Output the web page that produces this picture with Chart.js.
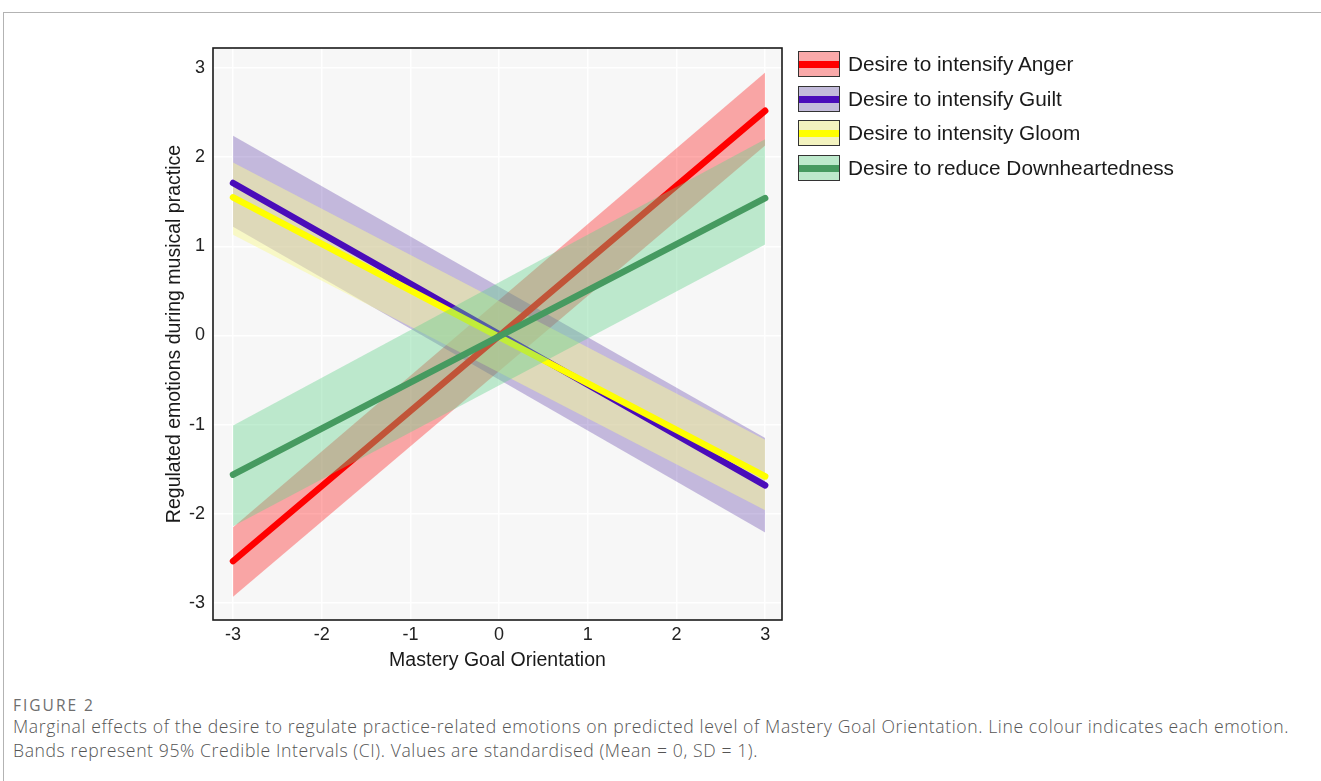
<!DOCTYPE html>
<html>
<head>
<meta charset="utf-8">
<script src="https://cdn.jsdelivr.net/npm/chart.js@4.4.0/dist/chart.umd.min.js"></script>
<style>
  body { margin: 0; background: #fff; width: 1321px; height: 781px; overflow: hidden; position: relative; font-family: "Liberation Sans", Arial, sans-serif; }
  #frame { position: absolute; left: 3px; top: 12px; right: 0; bottom: 0; border-top: 1px solid #b3b3b3; border-left: 1px solid #b3b3b3; }
  #chart { position: absolute; left: 0; top: 0; }
  .leg { position: absolute; left: 798px; height: 27px; display: flex; align-items: center; }
  .key { width: 40px; height: 24px; border: 1.5px solid #333; position: relative; margin-right: 8px; box-sizing: content-box; }
  .key i { position: absolute; left: 0; right: 0; top: 9px; height: 7px; }
  .leg span { font-size: 20.8px; color: #1a1a1a; }
  #fig { position: absolute; left: 13px; top: 694px; font-family: "Open Sans", sans-serif; font-size: 15.5px; font-weight: 500; color: #6e6e6e; letter-spacing: 2px; }
  #cap { position: absolute; left: 13px; top: 714px; width: 1300px; font-family: "Open Sans", sans-serif; font-size: 17.6px; line-height: 24px; color: #555; font-weight: 300; letter-spacing: 0.6px; }
</style>
</head>
<body>
<div id="frame"></div>
<canvas id="chart" width="800" height="690"></canvas>
<div id="legend"></div>
<div id="fig">FIGURE 2</div>
<div id="cap">Marginal effects of the desire to regulate practice-related emotions on predicted level of Mastery Goal Orientation. Line colour indicates each emotion. Bands represent 95% Credible Intervals (CI). Values are standardised (Mean = 0, SD = 1).</div>
<script>
// x positions of the fitted lines (Mastery Goal Orientation)
const xVals = [-3, 3];
const xTicks = [-3, -2, -1, 0, 1, 2, 3];
const yTicks = [-3, -2, -1, 0, 1, 2, 3];

const seriesNames = ['Desire to intensify Anger', 'Desire to intensify Guilt', 'Desire to intensity Gloom', 'Desire to reduce Downheartedness'];

const angerFit  = [-2.53, 2.52];
const angerLow  = [-2.93, 2.13];
const angerHigh = [-2.15, 2.95];

const guiltFit  = [1.71, -1.68];
const guiltLow  = [1.22, -2.21];
const guiltHigh = [2.24, -1.15];

const gloomFit  = [1.55, -1.58];
const gloomLow  = [1.13, -1.96];
const gloomHigh = [1.94, -1.17];

const downFit  = [-1.56, 1.54];
const downLow  = [-2.14, 1.02];
const downHigh = [-1.01, 2.20];

const lineColors = ['#ff0000', '#4a0cba', '#ffff00', '#469a60'];
const bandColors = ['rgba(255,0,0,0.33)', 'rgba(75,40,160,0.30)', 'rgba(250,250,150,0.5)', 'rgba(100,210,140,0.40)'];
const legendFill = ['#f9a9a9', '#c3bbdb', '#f3f3bf', '#bde9cc'];

const fits = [angerFit, guiltFit, gloomFit, downFit];
const lows = [angerLow, guiltLow, gloomLow, downLow];
const highs = [angerHigh, guiltHigh, gloomHigh, downHigh];

// paint order, back to front (like the original: green band sits over the other lines)
const layers = [
  ['band', 0], ['band', 1], ['band', 2],
  ['line', 1], ['line', 2], ['line', 0],
  ['band', 3], ['line', 3]
];

const pts = arr => xVals.map((x, i) => ({x, y: arr[i]}));

const datasets = [];
let ord = 100;
layers.forEach(([kind, k]) => {
  if (kind === 'band') {
    datasets.push({ label: seriesNames[k] + ' high', data: pts(highs[k]), borderWidth: 0, pointRadius: 0, fill: false, order: ord-- });
    datasets.push({ label: seriesNames[k] + ' low', data: pts(lows[k]), borderWidth: 0, pointRadius: 0, fill: '-1', backgroundColor: bandColors[k], order: ord-- });
  } else {
    datasets.push({ label: seriesNames[k], data: pts(fits[k]), borderColor: lineColors[k], borderWidth: 6.5, borderCapStyle: 'round', pointRadius: 0, fill: false, order: ord-- });
  }
});

const panel = {
  id: 'panel',
  beforeDraw(chart) {
    const a = chart.chartArea, c = chart.ctx;
    c.save(); c.fillStyle = '#f7f7f7'; c.fillRect(a.left, a.top, a.right - a.left, a.bottom - a.top); c.restore();
  },
  afterDatasetsDraw(chart) {
    const a = chart.chartArea, c = chart.ctx;
    c.save(); c.strokeStyle = '#1a1a1a'; c.lineWidth = 1.6;
    c.strokeRect(a.left, a.top, a.right - a.left, a.bottom - a.top); c.restore();
  }
};

const tickFont = { family: '"Liberation Sans", Arial, sans-serif', size: 18 };
const titleFont = { family: '"Liberation Sans", Arial, sans-serif', size: 19.5 };

new Chart(document.getElementById('chart'), {
  type: 'line',
  data: { datasets },
  plugins: [panel],
  options: {
    responsive: false,
    animation: false,
    devicePixelRatio: 1,
    layout: { padding: { left: 152, top: 48, right: 18, bottom: 0 } },
    plugins: { legend: { display: false }, tooltip: { enabled: false } },
    scales: {
      x: {
        type: 'linear', min: -3.226, max: 3.19,
        afterBuildTicks: s => { s.ticks = xTicks.map(v => ({value: v})); },
        afterFit: s => { s.height = 70; },
        ticks: { font: tickFont, color: '#222', padding: 4, maxRotation: 0 },
        grid: { color: '#ffffff', lineWidth: 1.5, drawTicks: false },
        border: { display: false },
        title: { display: true, text: 'Mastery Goal Orientation', font: titleFont, color: '#1a1a1a', padding: { bottom: 18 } }
      },
      y: {
        type: 'linear', min: -3.19, max: 3.224,
        afterBuildTicks: s => { s.ticks = yTicks.map(v => ({value: v})); },
        afterFit: s => { s.width = 61; },
        ticks: { font: tickFont, color: '#222', padding: 8 },
        grid: { color: '#ffffff', lineWidth: 1.5, drawTicks: false },
        border: { display: false },
        title: { display: true, text: 'Regulated emotions during musical practice', font: titleFont, color: '#1a1a1a', padding: { top: 11 } }
      }
    }
  }
});

// legend
const legTops = [50, 85, 119, 154];
const leg = document.getElementById('legend');
seriesNames.forEach((name, k) => {
  const d = document.createElement('div');
  d.className = 'leg';
  d.style.top = legTops[k] + 'px';
  d.innerHTML = `<div class="key" style="background:${legendFill[k]}"><i style="background:${lineColors[k]}"></i></div><span>${name}</span>`;
  leg.appendChild(d);
});
</script>
</body>
</html>
